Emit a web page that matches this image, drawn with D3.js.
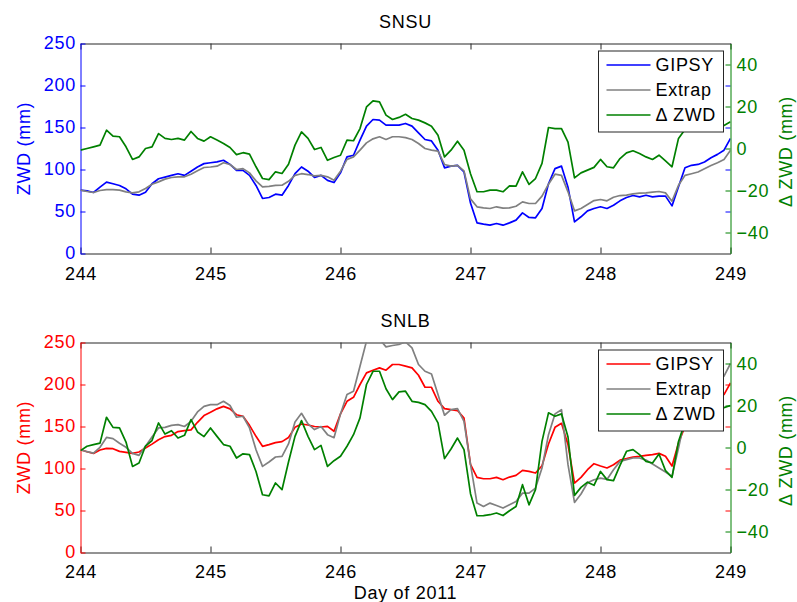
<!DOCTYPE html>
<html>
<head>
<meta charset="utf-8">
<script src="https://cdn.jsdelivr.net/npm/d3@7"></script>
<style>
  body { margin: 0; background: #fff; }
  svg { font-family: "Liberation Sans", Arial, Helvetica, sans-serif; }
</style>
</head>
<body>
<svg id="chart" width="797" height="602"></svg>
<script>
// Sampling instants (day of year 2011), every 0.05 day
const days = [
  244.00, 244.05, 244.10, 244.15, 244.20, 244.25, 244.30, 244.35, 244.40, 244.45,
  244.50, 244.55, 244.60, 244.65, 244.70, 244.75, 244.80, 244.85, 244.90, 244.95,
  245.00, 245.05, 245.10, 245.15, 245.20, 245.25, 245.30, 245.35, 245.40, 245.45,
  245.50, 245.55, 245.60, 245.65, 245.70, 245.75, 245.80, 245.85, 245.90, 245.95,
  246.00, 246.05, 246.10, 246.15, 246.20, 246.25, 246.30, 246.35, 246.40, 246.45,
  246.50, 246.55, 246.60, 246.65, 246.70, 246.75, 246.80, 246.85, 246.90, 246.95,
  247.00, 247.05, 247.10, 247.15, 247.20, 247.25, 247.30, 247.35, 247.40, 247.45,
  247.50, 247.55, 247.60, 247.65, 247.70, 247.75, 247.80, 247.85, 247.90, 247.95,
  248.00, 248.05, 248.10, 248.15, 248.20, 248.25, 248.30, 248.35, 248.40, 248.45,
  248.50, 248.55, 248.60, 248.65, 248.70, 248.75, 248.80, 248.85, 248.90, 248.95,
  249.00
];

// SNSU: zenith wet delay (mm)
const snsuGipsy = [
  75.4, 74.6, 72.6, 79, 85, 83, 81, 77, 70.6, 69.4, 73, 83, 89, 91, 93, 95, 93, 98, 103, 107,
  108, 109, 111, 106, 99, 99, 93, 81, 65.5, 66.7, 70.6, 69.4, 81, 95, 103, 98, 90.5, 93, 87, 84.5,
  96, 115, 117, 135, 151.6, 159.5, 158.7, 152.8, 152.8, 152.8, 154.8, 151.6, 143.7, 135.7, 134, 123, 102, 104, 105, 97,
  60, 36.5, 35, 33.7, 35.7, 33.7, 36.5, 39.7, 48.4, 42.9, 42.5, 53.6, 83, 101, 104, 79, 37.7, 43.7, 50.8, 53.6,
  55.6, 53.6, 57.5, 62.7, 66.7, 69, 67.5, 69.4, 67.5, 68.3, 68.3, 56.7, 79.4, 102, 105, 106, 109, 114, 118, 123,
  137
];
const snsuExtrap = [
  75.4, 73.8, 72.6, 75, 76, 76, 75.4, 73.4, 72.2, 73.4, 77.4, 82.5, 85.3, 88.5, 90.5, 91.3, 91.3, 94.4, 98.4, 102.4,
  103, 104, 108, 106, 100, 101, 96, 86.5, 79.4, 80, 81, 81.3, 86, 93, 95, 94, 92.5, 93, 91.3, 87.3,
  98, 112, 115, 123, 131.7, 136.5, 139, 135.7, 139, 139, 138, 135.7, 131, 125, 123, 121.8, 106, 104, 104.8, 98.4,
  65, 55.6, 54.4, 53.6, 55.6, 54, 54.4, 56.3, 61.5, 59.5, 59.5, 68.3, 82.5, 94.4, 93, 73.4, 50.8, 53.6, 58.3, 63,
  64.3, 62.7, 67, 69, 69.4, 71, 71.8, 72.2, 73, 73.8, 72.2, 62.3, 81.3, 93, 95, 97, 101, 104.8, 108, 112,
  123
];
const snsuDelta = [
  -0.8, 0, 0.8, 1.6, 8.7, 5.9, 5.6, 0.8, -5.2, -4, 0, 0.8, 7.1, 4.8, 4.3, 4.8, 4, 8.1, 4.8, 3.5,
  5.6, 4, 2.4, 0.5, -2.9, -2, -2.7, -8.7, -14.3, -14.8, -11.1, -11.9, -7.5, 1.6, 7.9, 4.8, -0.5, 0.5, -5.6, -4.3,
  -3.2, 4, 3.7, 9.5, 19.8, 22.7, 22.2, 15.9, 13.8, 14.8, 16.3, 14.3, 13.5, 12.2, 10.6, 6.3, -4, -0.8, 3.5, -0.8,
  -12, -20.6, -20.6, -19.8, -19.8, -20.6, -17.8, -17.9, -11.1, -17.1, -14.3, -7.1, 10, 9.5, 9.5, 3, -14, -11.6, -10.3, -9,
  -5.2, -8.7, -9.2, -4.8, -2.1, -1.1, -2.4, -4, -5.2, -3.2, -5.9, -8.7, 4.8, 9, 10, 11, 12, 12.2, 11.6, 11,
  12.7
];

// SNLB: zenith wet delay (mm)
const snlbGipsy = [
  122.4, 120, 118, 122, 124, 123.6, 120.4, 119.2, 118, 119.6, 124.4, 129, 134.3, 138, 139.5, 144, 145, 146, 155, 163,
  167, 171, 174, 171, 164, 162.2, 151.4, 138.3, 126.4, 128.4, 130.8, 132, 137, 149, 153, 151.8, 150, 149.4, 150.2, 144.3,
  165, 180, 184.8, 200, 213.8, 217, 219.8, 217, 223.8, 223.8, 221.8, 219.8, 211, 196.7, 196.7, 180, 171.3, 170, 169, 160,
  105, 89.4, 87.8, 87.8, 89.4, 86.6, 89.8, 91.8, 97.8, 96.6, 94.6, 103.3, 129.2, 149, 153.8, 128.4, 82.7, 89.4, 98.6, 105.7,
  103, 100.6, 104.5, 110, 111.7, 113.7, 114.5, 115.7, 116.5, 118, 114.5, 103, 130.4, 150, 165, 175, 180, 183, 185, 188,
  202
];
const snlbExtrap = [
  122.4, 120, 118.4, 125.2, 137, 135.5, 130, 125.2, 118, 115.7, 126.4, 137.5, 148.3, 149, 151.4, 152.2, 150, 156.2, 167.3, 174,
  176, 176, 180, 175, 161, 162.2, 148.3, 122.4, 102.5, 107.7, 113.7, 114.5, 129.2, 155.4, 165.7, 153, 146.3, 150, 140.3, 136.7,
  165, 188, 192, 221.8, 251.6, 256, 254, 244.8, 246.4, 247.6, 250.8, 243.6, 223.8, 215.8, 212.6, 188, 163.4, 170, 171.3, 156.2,
  105, 58.8, 54.8, 58.8, 56, 52.9, 56.8, 60.8, 70.7, 70.7, 76.7, 100.6, 140.3, 165, 170, 104.5, 59.6, 69.6, 83, 86.6,
  88.6, 87, 98.6, 108.5, 110.5, 112.5, 112.5, 110, 105.3, 100.6, 95.8, 90.6, 124.4, 160, 175, 185, 192, 198, 203, 210,
  225
];
const snlbDelta = [
  -1.5, 0.6, 1.4, 2.1, 14.4, 9.6, 9.3, 2.6, -9, -7.4, 0.7, 3.3, 11.7, 6.4, 8, 4.5, 5.8, 13.3, 7.4, 5.2,
  9.3, 5.3, 1.4, 0.6, -5, -3, -3.4, -11.4, -22.5, -23, -16.9, -20.1, -6.9, 5.3, 12.8, 5.3, -1, 1, -9, -6.3,
  -4.2, 0.6, 6.1, 14.1, 30, 36.3, 36.3, 28, 22.8, 26.5, 26.8, 22, 21.5, 20.4, 17.2, 11.7, -5.3, -0.7, 4.5, -1,
  -22, -32.5, -32.4, -32, -31.2, -32.4, -30.1, -28.1, -17.7, -27.3, -20.1, 2.9, 16.5, 14.9, 16, 5, -22.8, -19, -16.5, -18,
  -11.4, -15.3, -15.8, -8.5, -1.8, -1, -3.4, -6.6, -7.4, -3.1, -11, -14.2, 2.9, 12, 15, 17, 18, 19, 19, 19,
  20
];

const dayTicks = [244, 245, 246, 247, 248, 249];
const zwdTicks = [0, 50, 100, 150, 200, 250];
const deltaTicks = [-40, -20, 0, 20, 40];
const seriesNames = ["GIPSY", "Extrap", "\u0394 ZWD"];
const axisLabelLeft = "ZWD (mm)";
const axisLabelRight = "\u0394 ZWD (mm)";
const xLabel = "Day of 2011";

const panels = [
  { title: "SNSU", gipsy: snsuGipsy, extrap: snsuExtrap, delta: snsuDelta, color: "#0000ff", top: 43.5, bottom: 253.5, tickBase: 26 },
  { title: "SNLB", gipsy: snlbGipsy, extrap: snlbExtrap, delta: snlbDelta, color: "#ff0000", top: 342.5, bottom: 552.5, tickBase: 25.5 }
];

const GREEN = "#008000";
const GRAY = "#808080";
const FRAME = "#262626";
const FS = 18;
const LS = "0.7px";
const left = 80.5, right = 730.5;

const svg = d3.select("#chart");
const x = d3.scaleLinear().domain([244, 249]).range([left, right]);

panels.forEach((p, pi) => {
  const yL = d3.scaleLinear().domain([0, 250]).range([p.bottom, p.top]);
  const yR = d3.scaleLinear().domain([-50, 50]).range([p.bottom, p.top]);
  const g = svg.append("g");

  const clipId = "clip" + pi;
  svg.append("clipPath").attr("id", clipId)
    .append("rect").attr("x", left).attr("y", p.top)
    .attr("width", right - left).attr("height", p.bottom - p.top);

  // x axis along bottom edge (with labels) and top edge (ticks only)
  const xb = g.append("g").attr("transform", `translate(0,${p.bottom})`)
    .call(d3.axisBottom(x).tickValues(dayTicks).tickFormat(d3.format("d"))
      .tickSizeInner(-6).tickSizeOuter(0).tickPadding(10));
  xb.select(".domain").attr("stroke", FRAME);
  xb.selectAll(".tick line").attr("stroke", FRAME);
  xb.selectAll(".tick text").attr("font-size", FS).attr("letter-spacing", LS).attr("fill", "#000")
    .attr("dy", null).attr("y", p.tickBase);

  const xt = g.append("g").attr("transform", `translate(0,${p.top})`)
    .call(d3.axisTop(x).tickValues(dayTicks).tickFormat("").tickSizeInner(-6).tickSizeOuter(0));
  xt.select(".domain").attr("stroke", FRAME);
  xt.selectAll(".tick line").attr("stroke", FRAME);

  // left ZWD axis
  const ya = g.append("g").attr("transform", `translate(${left},0)`)
    .call(d3.axisLeft(yL).tickValues(zwdTicks).tickSizeInner(-5).tickSizeOuter(0).tickPadding(4.5));
  ya.select(".domain").attr("stroke", p.color);
  ya.selectAll(".tick line").attr("stroke", p.color);
  ya.selectAll(".tick text").attr("font-size", FS).attr("letter-spacing", LS)
    .attr("fill", p.color).attr("dy", "0.28em");

  // mirrored ZWD ticks on the right edge
  const ym = g.append("g").attr("transform", `translate(${right},0)`)
    .call(d3.axisRight(yL).tickValues(zwdTicks.slice(1, -1)).tickFormat("").tickSizeInner(-5).tickSizeOuter(0));
  ym.select(".domain").remove();
  ym.selectAll(".tick line").attr("stroke", p.color);

  // data lines (clipped to the axes box)
  const plot = g.append("g").attr("clip-path", `url(#${clipId})`);
  const lineL = d3.line().x((d, i) => x(days[i])).y(d => yL(d));
  const lineR = d3.line().x((d, i) => x(days[i])).y(d => yR(d));

  plot.append("path").datum(p.gipsy).attr("d", lineL)
    .attr("fill", "none").attr("stroke", p.color).attr("stroke-width", 1.7).attr("stroke-linejoin", "round");
  plot.append("path").datum(p.extrap).attr("d", lineL)
    .attr("fill", "none").attr("stroke", GRAY).attr("stroke-width", 1.7).attr("stroke-linejoin", "round");
  plot.append("path").datum(p.delta).attr("d", lineR)
    .attr("fill", "none").attr("stroke", GREEN).attr("stroke-width", 1.7).attr("stroke-linejoin", "round");

  // right delta axis
  const yb = g.append("g").attr("transform", `translate(${right},0)`)
    .call(d3.axisRight(yR).tickValues(deltaTicks).tickSizeInner(-5).tickSizeOuter(0).tickPadding(6));
  yb.select(".domain").attr("stroke", GREEN);
  yb.selectAll(".tick line").attr("stroke", GREEN);
  yb.selectAll(".tick text").attr("font-size", FS).attr("letter-spacing", LS)
    .attr("fill", GREEN).attr("dy", "0.32em");

  // title
  g.append("text").attr("x", (left + right) / 2).attr("y", p.top - 15.5)
    .attr("text-anchor", "middle").attr("font-size", FS).attr("letter-spacing", LS)
    .attr("fill", "#000").text(p.title);

  // axis labels
  const midY = (p.top + p.bottom) / 2;
  g.append("text").attr("transform", `translate(24,${midY}) rotate(-90)`)
    .attr("text-anchor", "middle").attr("dy", "0.36em").attr("font-size", FS).attr("letter-spacing", LS)
    .attr("fill", p.color).text(axisLabelLeft);
  g.append("text").attr("transform", `translate(786,${midY + 3}) rotate(-90)`)
    .attr("text-anchor", "middle").attr("dy", "0.36em").attr("font-size", FS).attr("letter-spacing", LS)
    .attr("fill", GREEN).text(axisLabelRight);

  // legend
  const lg = g.append("g").attr("transform", `translate(598.5,${p.top + 7.5})`);
  lg.append("rect").attr("width", 125).attr("height", 81)
    .attr("fill", "#fff").attr("stroke", FRAME).attr("stroke-width", 1);
  const colors = [p.color, GRAY, GREEN];
  seriesNames.forEach((name, i) => {
    const yy = 14 + i * 25;
    lg.append("line").attr("x1", 8).attr("x2", 52).attr("y1", yy).attr("y2", yy)
      .attr("stroke", colors[i]).attr("stroke-width", 1.7);
    lg.append("text").attr("x", 57).attr("y", yy).attr("dy", "0.36em")
      .attr("font-size", FS).attr("letter-spacing", LS).attr("fill", "#000").text(name);
  });
});

// shared x label
svg.append("text").attr("x", (left + right) / 2).attr("y", 598.5)
  .attr("text-anchor", "middle").attr("font-size", FS).attr("letter-spacing", LS)
  .attr("fill", "#000").text(xLabel);
</script>
</body>
</html>
